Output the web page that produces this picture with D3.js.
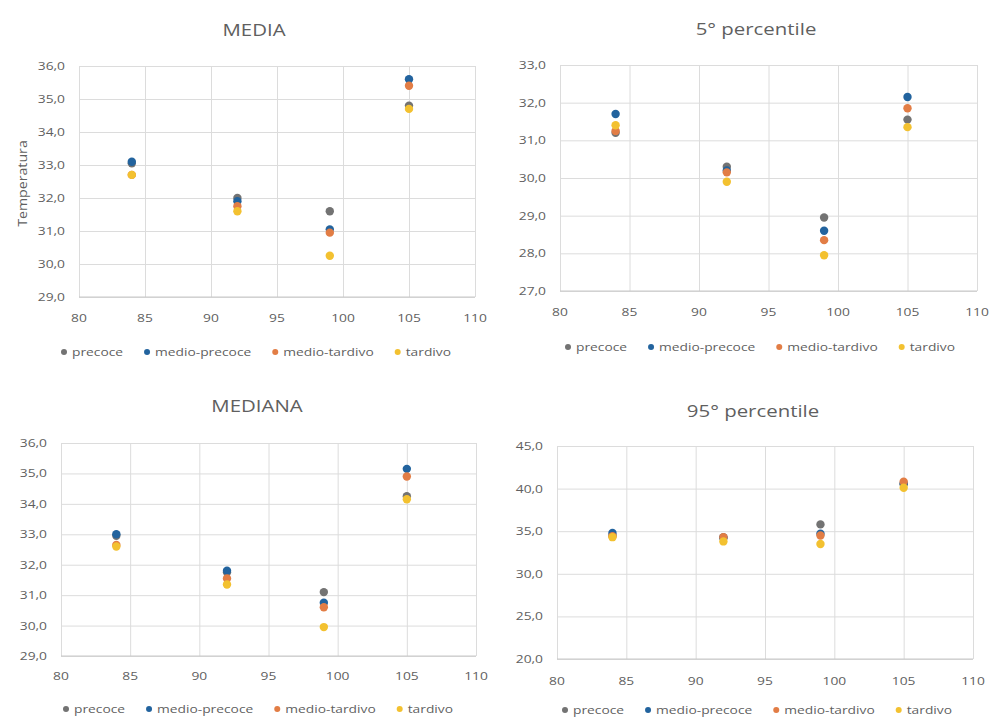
<!DOCTYPE html>
<html>
<head>
<meta charset="utf-8">
<script src="https://cdn.jsdelivr.net/npm/d3@7"></script>
<style>
  html, body { margin: 0; padding: 0; background: #ffffff; }
  svg { display: block; }
  text { font-family: "Open Sans", "Noto Sans", sans-serif; fill: #5f5f5f; }
</style>
</head>
<body>
<svg id="chart" width="991" height="720"></svg>
<script>
// ---------- DATA ----------
const xValues = [84, 92, 99, 105];
const seriesNames = ["precoce", "medio-precoce", "medio-tardivo", "tardivo"];
const xTicks = [80, 85, 90, 95, 100, 105, 110];

// MEDIA
const mediaPrecoce      = [33.05, 32.0, 31.6, 34.8];
const mediaMedioPrecoce = [33.1, 31.9, 31.05, 35.6];
const mediaMedioTardivo = [32.7, 31.75, 30.95, 35.4];
const mediaTardivo      = [32.7, 31.6, 30.25, 34.7];
const mediaYTicks = [29, 30, 31, 32, 33, 34, 35, 36];

// 5° percentile
const p5Precoce      = [31.2, 30.3, 28.95, 31.55];
const p5MedioPrecoce = [31.7, 30.2, 28.6, 32.15];
const p5MedioTardivo = [31.25, 30.15, 28.35, 31.85];
const p5Tardivo      = [31.4, 29.9, 27.95, 31.35];
const p5YTicks = [27, 28, 29, 30, 31, 32, 33];

// MEDIANA
const medianaPrecoce      = [32.95, 31.75, 31.1, 34.25];
const medianaMedioPrecoce = [33.0, 31.8, 30.75, 35.15];
const medianaMedioTardivo = [32.65, 31.55, 30.6, 34.9];
const medianaTardivo      = [32.6, 31.35, 29.95, 34.15];
const medianaYTicks = [29, 30, 31, 32, 33, 34, 35, 36];

// 95° percentile
const p95Precoce      = [34.5, 34.3, 35.8, 40.5];
const p95MedioPrecoce = [34.8, 34.2, 34.7, 40.6];
const p95MedioTardivo = [34.4, 34.3, 34.5, 40.8];
const p95Tardivo      = [34.3, 33.8, 33.5, 40.1];
const p95YTicks = [20, 25, 30, 35, 40, 45];

const titles = ["MEDIA", "5° percentile", "MEDIANA", "95° percentile"];
const yAxisTitle = "Temperatura";

// ---------- STYLE / LAYOUT ----------
const colors = ["#737373", "#22639e", "#e27d45", "#f3c130"];
const STRETCH = 1.2;

const panels = [
  { title: titles[0], series: [mediaPrecoce, mediaMedioPrecoce, mediaMedioTardivo, mediaTardivo], yTicks: mediaYTicks,
    plot: {l: 79, r: 475, t: 66, b: 297}, titleX: 254, titleY: 35, legendCx: 256, legendY: 352, xLabY: 322, yTitle: true },
  { title: titles[1], series: [p5Precoce, p5MedioPrecoce, p5MedioTardivo, p5Tardivo], yTicks: p5YTicks,
    plot: {l: 560, r: 977, t: 65, b: 291}, titleX: 756, titleY: 34, legendCx: 760, legendY: 347, xLabY: 316 },
  { title: titles[2], series: [medianaPrecoce, medianaMedioPrecoce, medianaMedioTardivo, medianaTardivo], yTicks: medianaYTicks,
    plot: {l: 61, r: 476, t: 443, b: 656}, titleX: 257, titleY: 411, legendCx: 258, legendY: 709, xLabY: 680 },
  { title: titles[3], series: [p95Precoce, p95MedioPrecoce, p95MedioTardivo, p95Tardivo], yTicks: p95YTicks,
    plot: {l: 557, r: 973, t: 446, b: 659}, titleX: 753, titleY: 416, legendCx: 757, legendY: 710, xLabY: 685 }
];

const svg = d3.select("#chart");
const fmt = v => d3.format(".1f")(v).replace(".", ",");

function stretchedText(g, x, y, str, size, anchor) {
  return g.append("text")
    .attr("transform", `translate(${x},${y}) scale(${STRETCH},1)`)
    .attr("font-size", size)
    .attr("text-anchor", anchor || "start")
    .text(str);
}

panels.forEach(p => {
  const g = svg.append("g");
  const x = d3.scaleLinear().domain([xTicks[0], xTicks[xTicks.length - 1]]).range([p.plot.l, p.plot.r]);
  const y = d3.scaleLinear().domain([p.yTicks[0], p.yTicks[p.yTicks.length - 1]]).range([p.plot.b, p.plot.t]);

  // gridlines via axes
  const gx = g.append("g").attr("transform", `translate(0,${p.plot.b})`)
    .call(d3.axisBottom(x).tickValues(xTicks).tickSize(-(p.plot.b - p.plot.t)).tickFormat(""));
  const gy = g.append("g").attr("transform", `translate(${p.plot.l},0)`)
    .call(d3.axisLeft(y).tickValues(p.yTicks).tickSize(-(p.plot.r - p.plot.l)).tickFormat(""));
  [gx, gy].forEach(a => {
    a.select(".domain").remove();
    a.selectAll(".tick line").attr("stroke", "#dcdcdc").attr("stroke-width", 1);
  });
  g.append("line").attr("x1", p.plot.l).attr("x2", p.plot.r).attr("y1", p.plot.b).attr("y2", p.plot.b)
    .attr("stroke", "#c8c8c8");

  // tick labels
  xTicks.forEach(v => stretchedText(g, x(v), p.xLabY, String(v), 11.5, "middle"));
  p.yTicks.forEach(v => stretchedText(g, p.plot.l - 14, y(v) + 4, fmt(v), 11.5, "end"));

  // title
  stretchedText(g, p.titleX, p.titleY + 1, p.title, 17, "middle");

  if (p.yTitle) {
    g.append("text")
      .attr("transform", `translate(27,${(p.plot.t + p.plot.b) / 2 + 2}) rotate(-90) scale(1.05,1)`)
      .attr("font-size", 13.5)
      .attr("text-anchor", "middle")
      .text(yAxisTitle);
  }

  // points
  p.series.forEach((vals, si) => {
    g.append("g").selectAll("circle")
      .data(vals.map((v, i) => ({x: xValues[i], y: v})))
      .join("circle")
      .attr("cx", d => x(d.x))
      .attr("cy", d => y(d.y))
      .attr("r", 4.2)
      .attr("fill", colors[si]);
  });

  // legend
  const lg = g.append("g");
  const items = [];
  let cursor = 0;
  seriesNames.forEach((name, i) => {
    const it = lg.append("g");
    it.append("circle").attr("cx", 0).attr("cy", -4).attr("r", 3).attr("fill", colors[i]);
    const t = stretchedText(it, 8, 0, name, 11.5, "start");
    const w = t.node().getComputedTextLength() * STRETCH;
    items.push({it, x: cursor});
    cursor += 8 + w + 24;
  });
  const total = cursor - 24 + 3;
  const start = p.legendCx - total / 2 + 3;
  items.forEach(o => o.it.attr("transform", `translate(${start + o.x},${p.legendY + 4})`));
});
</script>
</body>
</html>
